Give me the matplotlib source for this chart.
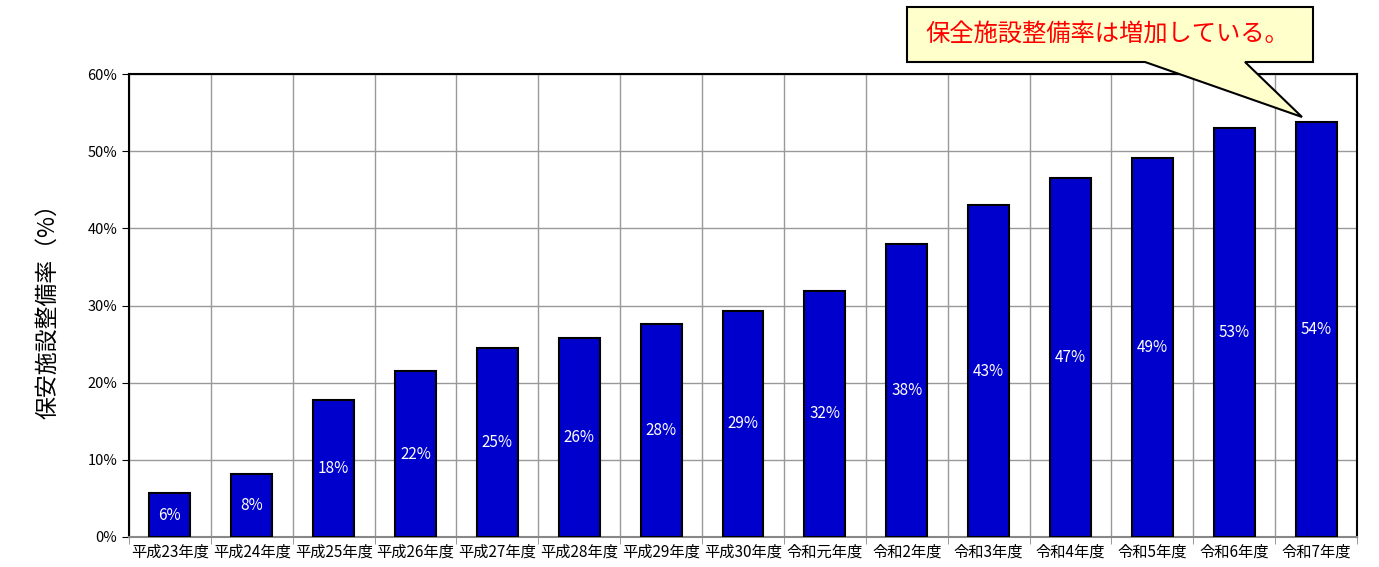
import numpy as np
import matplotlib
matplotlib.use('Agg')
import matplotlib.pyplot as plt
from matplotlib.patches import Polygon

plt.rcParams['font.family'] = ['Noto Sans CJK JP', 'DejaVu Sans']

# Data
years = ['平成23年度', '平成24年度', '平成25年度', '平成26年度', '平成27年度', '平成28年度',
         '平成29年度', '平成30年度', '令和元年度', '令和2年度', '令和3年度', '令和4年度',
         '令和5年度', '令和6年度', '令和7年度']
rates = [5.7, 8.2, 17.7, 21.5, 24.5, 25.8, 27.6, 29.3, 31.9, 38.0, 43.0, 46.5, 49.1, 53.0, 53.8]
labels = ['6%', '8%', '18%', '22%', '25%', '26%', '28%', '29%', '32%', '38%', '43%', '47%',
          '49%', '53%', '54%']
yticks = [0, 10, 20, 30, 40, 50, 60]
note = '保全施設整備率は増加している。'

W, H = 1379, 567
fig = plt.figure(figsize=(W / 100, H / 100), dpi=100)
ax = fig.add_axes([129 / W, 1 - 537 / H, 1228 / W, 463 / H])

x = np.arange(len(years))
ax.bar(x, rates, width=0.5, color='#0000CC', edgecolor='black', linewidth=1.5, zorder=3)
for xi, r, lab in zip(x, rates, labels):
    ax.text(xi, r / 2, lab, ha='center', va='center', color='white', fontsize=11, zorder=4)

ax.set_xlim(-0.5, len(years) - 0.5)
ax.set_ylim(0, 60)
ax.set_yticks(yticks)
ax.set_yticklabels([f'{v}%' for v in yticks], fontsize=10.5)
ax.set_xticks(x)
ax.set_xticklabels(years, fontsize=11)
ax.tick_params(axis='x', length=0, pad=5)
ax.set_xticks(np.arange(len(years) + 1) - 0.5, minor=True)
ax.tick_params(axis='x', which='minor', length=5, color='#888888')
ax.tick_params(axis='y', length=5, color='black')

ax.grid(axis='y', color='#999999', linewidth=1, zorder=0)
ax.grid(axis='x', which='minor', color='#999999', linewidth=1, zorder=0)
ax.grid(axis='x', which='major', visible=False)

for s in ['left', 'top', 'right']:
    ax.spines[s].set_color('black')
    ax.spines[s].set_linewidth(1.5)
ax.spines['bottom'].set_color('#888888')
ax.spines['bottom'].set_linewidth(1.5)

ax.set_ylabel('保安施設整備率（%）', fontsize=16.5, labelpad=20)

# Callout
pts = [(907, 7), (1313, 7), (1313, 62), (1245, 62), (1302, 117), (1145, 62), (907, 62)]
poly = Polygon([(px / W, 1 - py / H) for px, py in pts], closed=True,
               facecolor='#FFFFCC', edgecolor='black', linewidth=1.5,
               transform=fig.transFigure, zorder=10, clip_on=False)
fig.patches.append(poly)
fig.text(1107 / W, 1 - 35 / H, note, ha='center', va='center', color='#FF0000',
         fontsize=17.5, zorder=11)

fig.savefig('out.png', dpi=100)
